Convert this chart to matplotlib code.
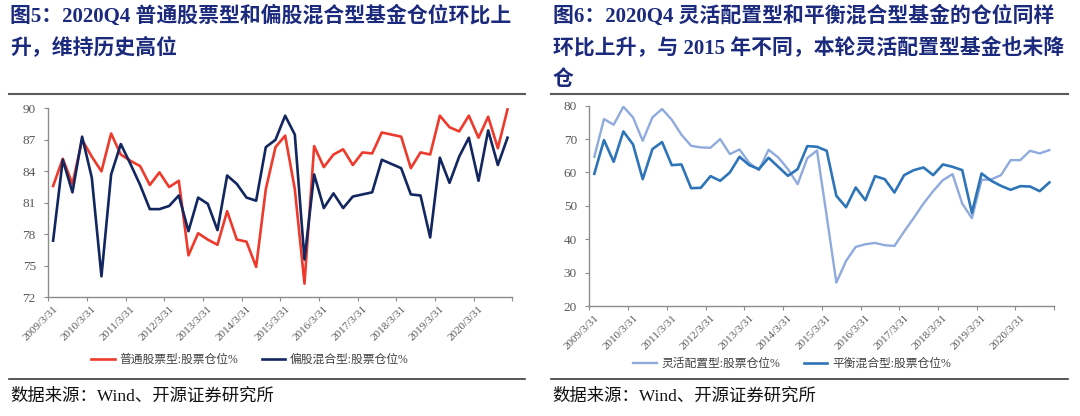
import matplotlib
matplotlib.use('Agg')
import matplotlib.pyplot as plt
from matplotlib.lines import Line2D
import numpy as np

plt.rcParams['font.family'] = ['Liberation Serif', 'Noto Sans CJK SC', 'DejaVu Sans']

# quarterly data, 2009Q1 .. 2020Q4 (48 points)
tick_labels = ['2009/3/31', '2010/3/31', '2011/3/31', '2012/3/31', '2013/3/31', '2014/3/31',
               '2015/3/31', '2016/3/31', '2017/3/31', '2018/3/31', '2019/3/31', '2020/3/31']

stock_fund = [82.6, 85.2, 82.8, 87.0, 85.4, 84.0, 87.6, 85.6, 85.0, 84.5, 82.7, 83.9,
              82.5, 83.1, 76.0, 78.1, 77.5, 77.0, 80.2, 77.5, 77.3, 74.9, 82.3, 86.3,
              87.4, 82.3, 73.3, 86.4, 84.4, 85.6, 86.1, 84.6, 85.8, 85.7, 87.7, 87.5,
              87.3, 84.3, 85.8, 85.6, 89.3, 88.2, 87.8, 89.3, 87.2, 89.2, 86.2, 89.9]
partial_stock = [77.4, 85.1, 82.0, 87.3, 83.4, 74.0, 83.7, 86.6, 84.7, 82.7, 80.4, 80.4,
                 80.7, 81.7, 78.3, 81.5, 80.9, 78.4, 83.6, 82.8, 81.5, 81.2, 86.3, 87.0,
                 89.3, 87.5, 75.6, 83.7, 80.5, 81.9, 80.5, 81.6, 81.8, 82.0, 85.1, 84.7,
                 84.3, 81.8, 81.7, 77.7, 85.3, 82.9, 85.4, 87.2, 83.1, 87.9, 84.6, 87.2]

flexible = [64.7, 76.0, 74.3, 79.7, 76.5, 69.5, 76.5, 79.0, 75.8, 71.3, 68.0, 67.5,
            67.4, 70.0, 65.5, 66.9, 62.9, 60.7, 66.8, 64.5, 61.0, 56.5, 64.3, 66.6,
            47.0, 27.0, 33.5, 37.7, 38.5, 38.9, 38.2, 38.0, 42.3, 46.4, 50.7, 54.4,
            57.7, 59.5, 50.7, 46.3, 57.8, 57.9, 59.2, 63.7, 63.7, 66.5, 65.7, 66.7]
balanced = [59.6, 69.7, 63.2, 72.3, 68.4, 58.0, 67.0, 69.1, 62.2, 62.4, 55.3, 55.4,
            58.9, 57.5, 60.0, 64.7, 62.2, 61.0, 64.4, 61.7, 59.0, 61.0, 67.9, 67.7,
            66.5, 53.0, 49.6, 55.5, 51.7, 58.9, 58.0, 54.0, 59.2, 60.7, 61.5, 59.2,
            62.4, 61.7, 60.7, 47.9, 59.7, 57.5, 56.0, 54.8, 55.9, 55.8, 54.4, 57.0]

title_color = '#1B2A7C'
axis_gray = '#8C8C8C'
label_gray = '#595959'

fig = plt.figure(figsize=(10.8, 4.16), dpi=100)


def setup_axis(ax, ylim, yticks):
    n = len(stock_fund)
    ax.set_xlim(-0.5, n - 0.5)
    ax.set_ylim(*ylim)
    ax.set_yticks(yticks)
    for s in ['top', 'right']:
        ax.spines[s].set_visible(False)
    for s in ['left', 'bottom']:
        ax.spines[s].set_color(axis_gray)
        ax.spines[s].set_linewidth(1.0)
    # tick marks between categories, labels on each Q1
    ax.set_xticks(np.arange(-0.5, n, 4))
    ax.set_xticklabels([])
    ax.set_xticks(np.arange(0, n, 4), minor=True)
    ax.set_xticklabels(tick_labels, minor=True, rotation=45, ha='right',
                       rotation_mode='anchor', fontsize=8, color=label_gray)
    ax.tick_params(axis='x', which='major', direction='out', length=3, color=axis_gray)
    ax.tick_params(axis='x', which='minor', length=0, pad=5)
    ax.tick_params(axis='y', direction='out', length=3, color=axis_gray,
                   labelsize=9.5, labelcolor=label_gray, pad=6)
    ax.set_facecolor('none')


x = np.arange(len(stock_fund))

# left panel
ax1 = fig.add_axes([0.0447, 0.2853, 0.4297, 0.4543])
ax1.plot(x, stock_fund, color='#EE3A2C', lw=1.9, label='普通股票型:股票仓位%')
ax1.plot(x, partial_stock, color='#12265F', lw=1.9, label='偏股混合型:股票仓位%')
setup_axis(ax1, (72, 90), np.arange(72, 91, 3))
fig.legend(handles=ax1.get_lines(), loc='center', bbox_to_anchor=(250 / 1080, 1 - 360 / 416),
           ncol=2, frameon=False, fontsize=8.5, handlelength=2.0, handletextpad=0.4,
           columnspacing=2.0, labelcolor='#404040')

# right panel
ax2 = fig.add_axes([0.5458, 0.2644, 0.4303, 0.4815])
ax2.plot(x, flexible, color='#8FAADC', lw=1.7, label='灵活配置型:股票仓位%')
ax2.plot(x, balanced, color='#2E74B8', lw=1.9, label='平衡混合型:股票仓位%')
setup_axis(ax2, (20, 80), np.arange(20, 81, 10))
fig.legend(handles=ax2.get_lines(), loc='center', bbox_to_anchor=(792 / 1080, 1 - 364 / 416),
           ncol=2, frameon=False, fontsize=8.5, handlelength=2.0, handletextpad=0.4,
           columnspacing=2.0, labelcolor='#404040')

# titles
left_title = ['图5：2020Q4 普通股票型和偏股混合型基金仓位环比上', '升，维持历史高位']
right_title = ['图6：2020Q4 灵活配置型和平衡混合型基金的仓位同样',
               '环比上升，与 2015 年不同，本轮灵活配置型基金也未降', '仓']
for i, line in enumerate(left_title):
    fig.text(10 / 1080, 1 - (16 + 32 * i) / 416, line, fontsize=15, fontweight='bold',
             color=title_color, va='center', ha='left')
for i, line in enumerate(right_title):
    fig.text(553 / 1080, 1 - (16 + 32 * i) / 416, line, fontsize=15, fontweight='bold',
             color=title_color, va='center', ha='left')

# rules and source notes
for x0, x1 in [(9, 525), (551, 1068)]:
    fig.add_artist(Line2D([x0 / 1080, x1 / 1080], [1 - 94 / 416, 1 - 94 / 416],
                          color='#5A5A5A', lw=1.5))
    fig.add_artist(Line2D([x0 / 1080, x1 / 1080], [1 - 379 / 416, 1 - 379 / 416],
                          color='#3A3A3A', lw=1.2))
    fig.text((x0 + 1) / 1080, 1 - 397 / 416, '数据来源：Wind、开源证券研究所', fontsize=12.5,
             color='#111111', va='center', ha='left')

fig.savefig('out.png', dpi=100)
